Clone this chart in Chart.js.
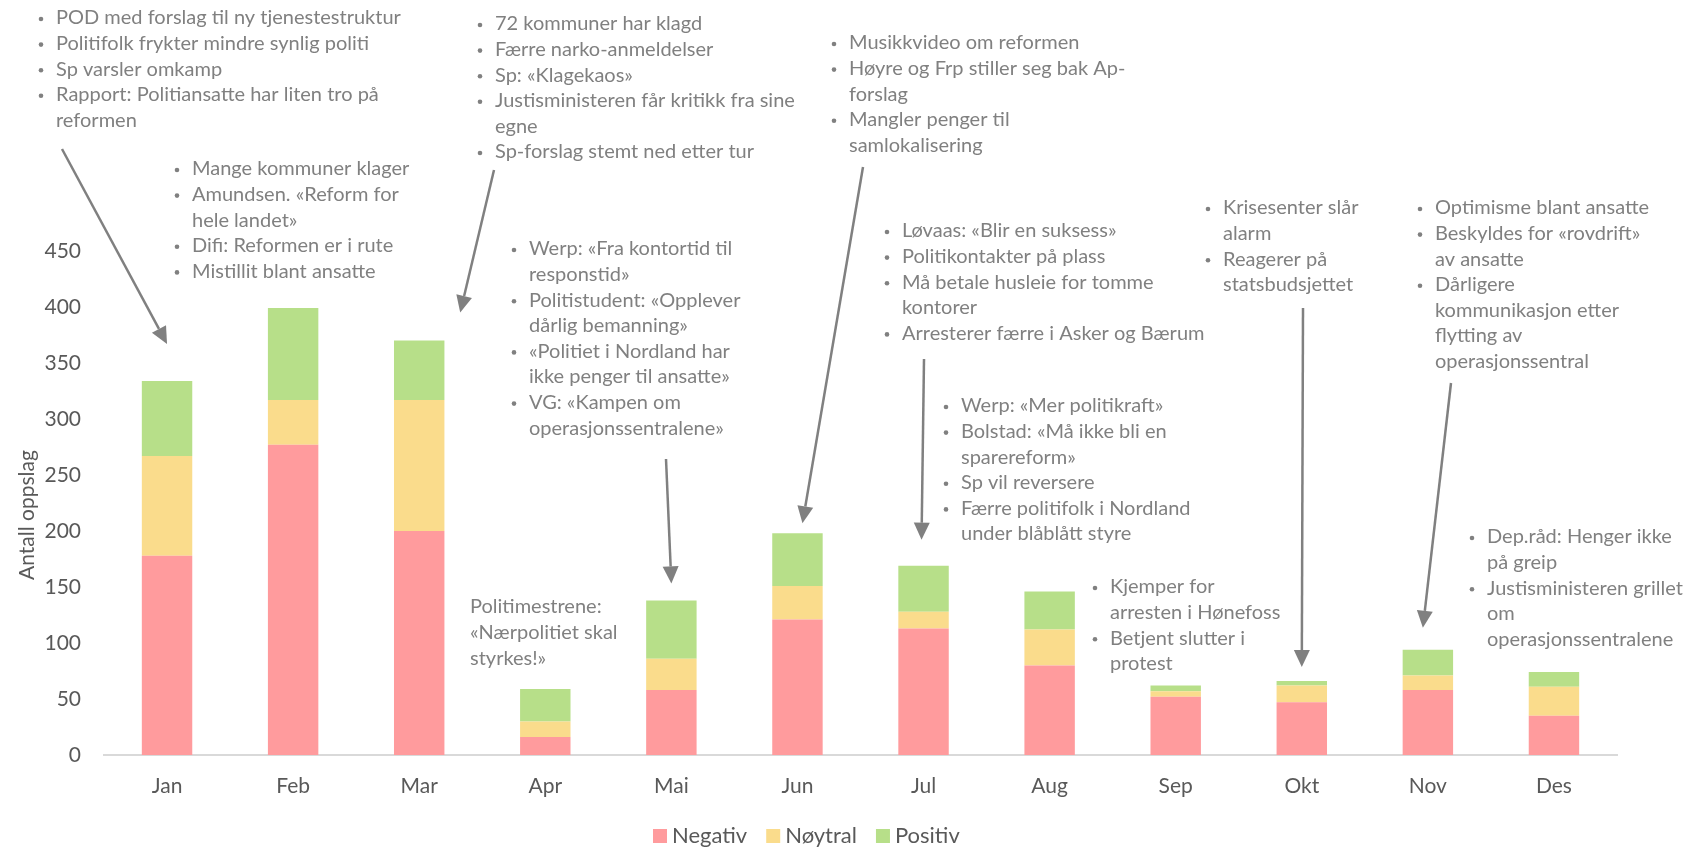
<!DOCTYPE html>
<html lang="no">
<head>
<meta charset="utf-8">
<title>Politireformen i media</title>
<script src="https://cdn.jsdelivr.net/npm/chart.js@4.4.1/dist/chart.umd.min.js"></script>
<style>
  html, body { margin: 0; padding: 0; background: #fff; }
  #wrap { width: 1692px; height: 849px; }
</style>
</head>
<body>
<div id="wrap"><canvas id="oppslagChart" width="1692" height="849"></canvas></div>
<script>
// Data lest av grafen
const maaneder = ['Jan', 'Feb', 'Mar', 'Apr', 'Mai', 'Jun', 'Jul', 'Aug', 'Sep', 'Okt', 'Nov', 'Des'];
const negativ = [178, 277, 200, 16, 58, 121, 113, 80, 52, 47, 58, 35];
const noytral = [89, 40, 117, 14, 28, 30, 15, 32, 5, 15, 13, 26];
const positiv = [67, 82, 53, 29, 52, 47, 41, 34, 5, 4, 23, 13];
const yTicks = [0, 50, 100, 150, 200, 250, 300, 350, 400, 450];
const yTittel = 'Antall oppslag';

const farger = { negativ: '#FF9B9D', noytral: '#FADC8C', positiv: '#B7DF89' };
const tekstGraa = '#595959';
const notatGraa = '#808080';
const fontNavn = 'Lato, "Noto Sans", sans-serif';

// Tekstblokker over søylene ("• " betyr nytt punkt)
const notater = [
    { x: 56, y: 18, linjer: ['• POD med forslag til ny tjenestestruktur', '• Politifolk frykter mindre synlig politi', '• Sp varsler omkamp', '• Rapport: Politiansatte har liten tro på', 'reformen'] },
    { x: 192, y: 169, linjer: ['• Mange kommuner klager', '• Amundsen. «Reform for', 'hele landet»', '• Difi: Reformen er i rute', '• Mistillit blant ansatte'] },
    { x: 495, y: 24, linjer: ['• 72 kommuner har klagd', '• Færre narko-anmeldelser', '• Sp: «Klagekaos»', '• Justisministeren får kritikk fra sine', 'egne', '• Sp-forslag stemt ned etter tur'] },
    { x: 529, y: 249, linjer: ['• Werp: «Fra kontortid til', 'responstid»', '• Politistudent: «Opplever', 'dårlig bemanning»', '• «Politiet i Nordland har', 'ikke penger til ansatte»', '• VG: «Kampen om', 'operasjonssentralene»'] },
    { x: 470, y: 607, linjer: ['Politimestrene:', '«Nærpolitiet skal', 'styrkes!»'] },
    { x: 849, y: 43, linjer: ['• Musikkvideo om reformen', '• Høyre og Frp stiller seg bak Ap-', 'forslag', '• Mangler penger til', 'samlokalisering'] },
    { x: 902, y: 231, linjer: ['• Løvaas: «Blir en suksess»', '• Politikontakter på plass', '• Må betale husleie for tomme', 'kontorer', '• Arresterer færre i Asker og Bærum'] },
    { x: 961, y: 406, linjer: ['• Werp: «Mer politikraft»', '• Bolstad: «Må ikke bli en', 'sparereform»', '• Sp vil reversere', '• Færre politifolk i Nordland', 'under blåblått styre'] },
    { x: 1110, y: 587, linjer: ['• Kjemper for', 'arresten i Hønefoss', '• Betjent slutter i', 'protest'] },
    { x: 1223, y: 208, linjer: ['• Krisesenter slår', 'alarm', '• Reagerer på', 'statsbudsjettet'] },
    { x: 1435, y: 208, linjer: ['• Optimisme blant ansatte', '• Beskyldes for «rovdrift»', 'av ansatte', '• Dårligere', 'kommunikasjon etter', 'flytting av', 'operasjonssentral'] },
    { x: 1487, y: 537, linjer: ['• Dep.råd: Henger ikke', 'på greip', '• Justisministeren grillet', 'om', 'operasjonssentralene'] }
];

// Piler: startpunkt, og spissen beregnes fra toppen av søylen
const piler = [
    { maaned: 0, fra: [62, 149], dx: 0, avstand: 37 },
    { maaned: 2, fra: [494, 170], dx: 41, avstand: 28 },
    { maaned: 4, fra: [666, 459], dx: 0, avstand: 17 },
    { maaned: 5, fra: [863, 167], dx: 5, avstand: 10 },
    { maaned: 6, fra: [924, 359], dx: -2, avstand: 26 },
    { maaned: 9, fra: [1303, 308], dx: 0, avstand: 14 },
    { maaned: 10, fra: [1451, 383], dx: -5, avstand: 22 }
];

function tegnPil(ctx, x1, y1, x2, y2) {
    const vinkel = Math.atan2(y2 - y1, x2 - x1);
    const hodeLengde = 17;
    const hodeBredde = 8;
    const bx = x2 - hodeLengde * Math.cos(vinkel);
    const by = y2 - hodeLengde * Math.sin(vinkel);
    ctx.strokeStyle = notatGraa;
    ctx.fillStyle = notatGraa;
    ctx.lineWidth = 2.5;
    ctx.beginPath();
    ctx.moveTo(x1, y1);
    ctx.lineTo(bx, by);
    ctx.stroke();
    ctx.beginPath();
    ctx.moveTo(x2, y2);
    ctx.lineTo(bx + hodeBredde * Math.sin(vinkel), by - hodeBredde * Math.cos(vinkel));
    ctx.lineTo(bx - hodeBredde * Math.sin(vinkel), by + hodeBredde * Math.cos(vinkel));
    ctx.closePath();
    ctx.fill();
}

const notatPlugin = {
    id: 'notater',
    afterDraw(chart) {
        const ctx = chart.ctx;
        const area = chart.chartArea;
        ctx.save();

        // Aksetittel (litt under midten, som i originalen)
        ctx.font = '21px ' + fontNavn;
        ctx.fillStyle = tekstGraa;
        ctx.textAlign = 'center';
        ctx.textBaseline = 'middle';
        ctx.save();
        ctx.translate(27, (area.top + area.bottom) / 2 + 12);
        ctx.rotate(-Math.PI / 2);
        ctx.fillText(yTittel, 0, 0);
        ctx.restore();

        // Tekstblokker
        ctx.font = '20px ' + fontNavn;
        ctx.fillStyle = notatGraa;
        ctx.textAlign = 'left';
        notater.forEach(function(blokk) {
            blokk.linjer.forEach(function(linje, i) {
                const y = blokk.y + i * 25.6;
                if (linje.startsWith('• ')) {
                    ctx.beginPath();
                    ctx.arc(blokk.x - 15, y + 1, 2.3, 0, Math.PI * 2);
                    ctx.fill();
                    ctx.fillText(linje.slice(2), blokk.x, y);
                } else {
                    ctx.fillText(linje, blokk.x, y);
                }
            });
        });

        // Piler mot søylene
        const topp = chart.getDatasetMeta(2).data;
        piler.forEach(function(pil) {
            const el = topp[pil.maaned];
            tegnPil(ctx, pil.fra[0], pil.fra[1], el.x + pil.dx, el.y - pil.avstand);
        });

        // Forklaring nederst
        ctx.font = '22px ' + fontNavn;
        let x = 653;
        const yLeg = 836;
        chart.data.datasets.forEach(function(ds) {
            ctx.fillStyle = ds.backgroundColor;
            ctx.fillRect(x, yLeg - 7, 14, 14);
            ctx.fillStyle = tekstGraa;
            ctx.fillText(ds.label, x + 19, yLeg);
            x += 19 + ctx.measureText(ds.label).width + 19;
        });

        ctx.restore();
    }
};

const ctxOppslag = document.getElementById('oppslagChart').getContext('2d');
window.oppslagChart = new Chart(ctxOppslag, {
    type: 'bar',
    data: {
        labels: maaneder,
        datasets: [
            { label: 'Negativ', data: negativ, backgroundColor: farger.negativ },
            { label: 'Nøytral', data: noytral, backgroundColor: farger.noytral },
            { label: 'Positiv', data: positiv, backgroundColor: farger.positiv }
        ]
    },
    options: {
        responsive: false,
        animation: false,
        layout: {
            padding: { top: 251, right: 75, bottom: 0, left: 0 }
        },
        datasets: {
            bar: { barPercentage: 0.4, categoryPercentage: 1 }
        },
        scales: {
            x: {
                stacked: true,
                grid: { display: false, drawTicks: false },
                border: { display: true, color: '#D9D9D9', width: 2 },
                ticks: {
                    color: tekstGraa,
                    font: { family: fontNavn, size: 21 },
                    padding: 19
                },
                afterFit: function(scale) { scale.height = 94; }
            },
            y: {
                stacked: true,
                min: 0,
                max: 450,
                grid: { display: false, drawTicks: false },
                border: { display: false },
                afterBuildTicks: function(scale) {
                    scale.ticks = yTicks.map(v => ({ value: v }));
                },
                ticks: {
                    color: tekstGraa,
                    font: { family: fontNavn, size: 21 },
                    padding: 23
                },
                afterFit: function(scale) { scale.width = 104; }
            }
        },
        plugins: {
            legend: { display: false },
            tooltip: { enabled: false }
        }
    },
    plugins: [notatPlugin]
});
</script>
</body>
</html>
